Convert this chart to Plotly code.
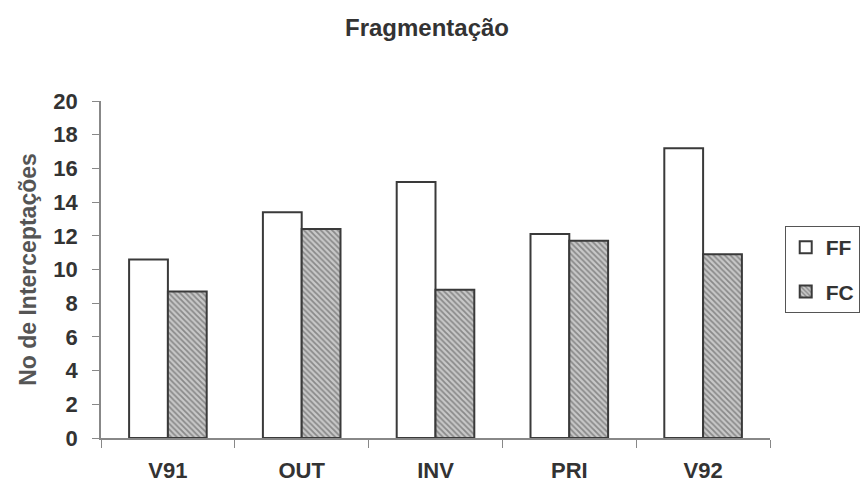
import plotly.graph_objects as go

categories = ["V91", "OUT", "INV", "PRI", "V92"]
ff_values = [10.6, 13.4, 15.2, 12.1, 17.2]
fc_values = [8.7, 12.4, 8.8, 11.7, 10.9]
y_ticks = [0, 2, 4, 6, 8, 10, 12, 14, 16, 18, 20]

font_family = "Liberation Sans, Arial, sans-serif"
text_color = "#333333"

fig = go.Figure()
fig.add_trace(go.Bar(
    x=categories, y=ff_values, name="FF", legendgroup="ff",
    marker=dict(color="white", line=dict(color="#3a3a3a", width=2)),
))
fig.add_trace(go.Bar(
    x=categories, y=fc_values, name="FC", legendgroup="fc",
    marker=dict(
        color="#b8b8b8",
        line=dict(color="#3a3a3a", width=2),
        pattern=dict(shape="\\", fgcolor="#4a4a4a", bgcolor="#c8c8c8", size=4, solidity=0.45),
    ),
))

fig.update_layout(
    width=860, height=485,
    margin=dict(l=101, r=90, t=101, b=47, autoexpand=False),
    paper_bgcolor="white", plot_bgcolor="white",
    barmode="group", bargap=0.42, bargroupgap=0,
    title=dict(text="Fragmentação", x=427 / 860, xanchor="center", y=1 - 28 / 485, yanchor="middle",
               font=dict(family=font_family, size=24, color=text_color, weight="bold")),
    font=dict(family=font_family, size=22, color=text_color, weight="bold"),
    showlegend=True,
    legend=dict(
        x=1.022, y=0.629, xanchor="left", yanchor="top",
        bordercolor="#555", borderwidth=1, bgcolor="white",
        font=dict(family=font_family, size=21, color=text_color, weight="bold"),
        itemwidth=30, tracegroupgap=14,
    ),
    xaxis=dict(
        showline=True, linecolor="#888", linewidth=1.5,
        ticks="outside", tickson="boundaries", ticklen=8, tickcolor="#888",
        tickfont=dict(size=22, color=text_color, weight="bold"),
        ticklabelstandoff=12,
        automargin=False,
    ),
    yaxis=dict(
        range=[0, 20], tickvals=y_ticks, showgrid=False, zeroline=False,
        showline=True, linecolor="#888", linewidth=1.5,
        ticks="outside", ticklen=7, tickcolor="#888",
        tickfont=dict(size=22, color=text_color, weight="bold"),
        ticklabelstandoff=10,
        automargin=False,
        title=dict(text="No de Interceptações", font=dict(size=23, color="#555", weight="bold"), standoff=10),
    ),
)

fig.write_html("out.html")
